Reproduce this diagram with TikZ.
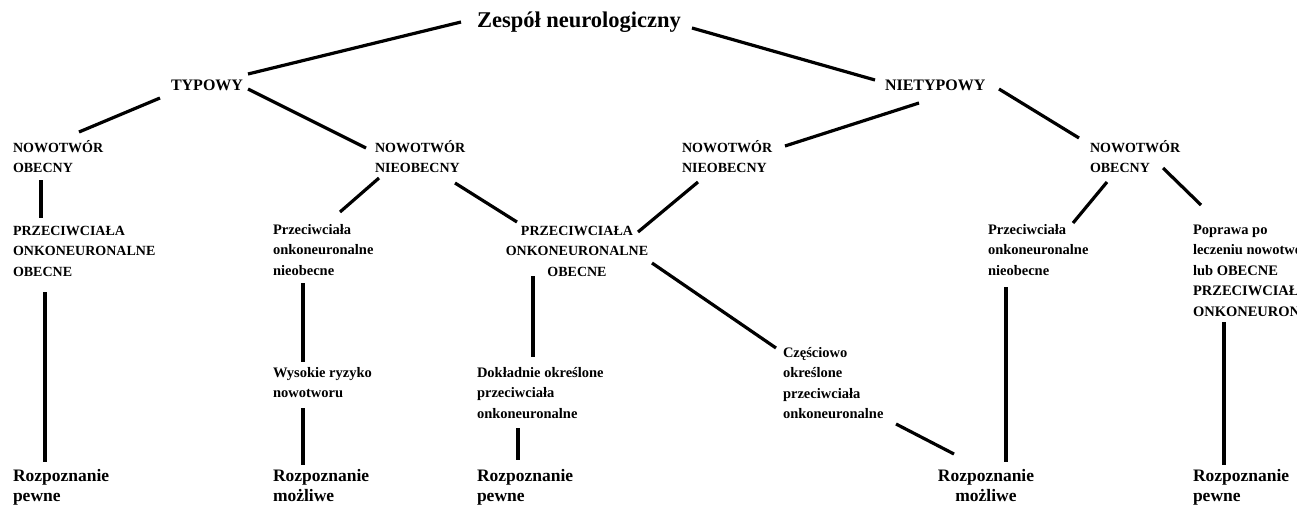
\documentclass[tikz,border=0pt]{standalone}
\usepackage{fontspec}
\setmainfont{Liberation Serif}
\usetikzlibrary{calc}
\newcommand{\mlines}[2]{\begin{tabular}[t]{@{}#1@{}}#2\end{tabular}}
\tikzset{
  lbl/.style={inner sep=0pt, outer sep=0pt, anchor=base west},
  clbl/.style={inner sep=0pt, outer sep=0pt, anchor=base},
  big/.style={font=\fontsize{22.5}{26}\selectfont\bfseries},
  mid/.style={font=\fontsize{16}{20}\selectfont\bfseries},
  small/.style={font=\fontsize{14.5}{20.5}\selectfont\bfseries},
  caps/.style={font=\fontsize{14}{20.5}\selectfont\bfseries},
  diag/.style={font=\fontsize{17.5}{20.5}\selectfont\bfseries},
  conn/.style={line width=3.2pt, black}
}
\begin{document}
\begin{tikzpicture}[x=1pt,y=-1pt]
\useasboundingbox (0,0) rectangle (1310,507);
\fill[white] (0,0) rectangle (1310,507);
\begin{scope}
\clip (0,0) rectangle (1296,507);
\node[lbl,big] (zes) at (477,27) {Zespół neurologiczny};
\node[lbl,mid] (typ) at (171,90) {TYPOWY};
\node[lbl,mid] (nietyp) at (885,90) {NIETYPOWY};
\node[lbl,caps] (nob1) at (13,152) {\mlines{l}{NOWOTWÓR\\OBECNY}};
\node[lbl,caps] (nnb1) at (375,152) {\mlines{l}{NOWOTWÓR\\NIEOBECNY}};
\node[lbl,caps] (nnb2) at (682,152) {\mlines{l}{NOWOTWÓR\\NIEOBECNY}};
\node[lbl,caps] (nob2) at (1090,152) {\mlines{l}{NOWOTWÓR\\OBECNY}};
\node[lbl,caps] (prz1) at (13,235) {\mlines{l}{PRZECIWCIAŁA\\ONKONEURONALNE\\OBECNE}};
\node[lbl,small] (pnb1) at (273,234) {\mlines{l}{Przeciwciała\\onkoneuronalne\\nieobecne}};
\node[clbl,caps] (prz2) at (577,235) {\mlines{c}{PRZECIWCIAŁA\\ONKONEURONALNE\\OBECNE}};
\node[lbl,small] (pnb2) at (988,234) {\mlines{l}{Przeciwciała\\onkoneuronalne\\nieobecne}};
\node[lbl,small] (popr) at (1193,234) {\mlines{l}{Poprawa po\\leczeniu nowotworu\\lub OBECNE\\PRZECIWCIAŁA\\ONKONEURONALNE}};
\node[lbl,small] (wys) at (273,377) {\mlines{l}{Wysokie ryzyko\\nowotworu}};
\node[lbl,small] (dok) at (477,377) {\mlines{l}{Dokładnie określone\\przeciwciała\\onkoneuronalne}};
\node[lbl,small] (cze) at (783,357) {\mlines{l}{Częściowo\\określone\\przeciwciała\\onkoneuronalne}};
\node[lbl,diag] (roz1) at (13,481) {\mlines{l}{Rozpoznanie\\pewne}};
\node[lbl,diag] (roz2) at (273,481) {\mlines{l}{Rozpoznanie\\możliwe}};
\node[lbl,diag] (roz3) at (477,481) {\mlines{l}{Rozpoznanie\\pewne}};
\node[clbl,diag] (roz4) at (986,481) {\mlines{c}{Rozpoznanie\\możliwe}};
\node[lbl,diag] (roz5) at (1193,481) {\mlines{l}{Rozpoznanie\\pewne}};
\end{scope}
\draw[conn] ($(zes.base west)+(-16,-5)$) -- ($(typ.base west)+(77,-16)$);
\draw[conn] ($(zes.base west)+(215,1)$) -- ($(nietyp.base west)+(-10,-10)$);
\draw[conn] ($(typ.base west)+(-11,8)$) -- ($(nob1.base west)+(66,-20)$);
\draw[conn] ($(typ.base west)+(77,-1)$) -- ($(nnb1.base west)+(-9,-4)$);
\draw[conn] ($(nietyp.base west)+(34,13)$) -- ($(nnb2.base west)+(103,-6)$);
\draw[conn] ($(nietyp.base west)+(114,-1)$) -- ($(nob2.base west)+(-11,-14)$);
\draw[conn] ($(nob1.base west)+(28,28)$) -- ($(prz1.base west)+(28,-17)$);
\draw[conn] ($(nnb1.base west)+(4,26)$) -- ($(pnb1.base west)+(67,-22)$);
\draw[conn] ($(nnb1.base west)+(80,31)$) -- ($(prz2.base)+(-60,-13)$);
\draw[conn] ($(nnb2.base west)+(16,30)$) -- ($(prz2.base)+(61,-3)$);
\draw[conn] ($(nob2.base west)+(17,30)$) -- ($(pnb2.base west)+(85,-11)$);
\draw[conn] ($(nob2.base west)+(73,16)$) -- ($(popr.base west)+(8,-29)$);
\draw[conn] ($(prz1.base west)+(32,57)$) -- ($(roz1.base west)+(32,-19)$);
\draw[conn] ($(pnb1.base west)+(30,49)$) -- ($(wys.base west)+(30,-15)$);
\draw[conn] ($(wys.base west)+(30,31)$) -- ($(roz2.base west)+(30,-16)$);
\draw[conn] ($(prz2.base)+(-44,41)$) -- ($(dok.base west)+(56,-20)$);
\draw[conn] ($(dok.base west)+(41,51)$) -- ($(roz3.base west)+(41,-21)$);
\draw[conn] ($(prz2.base)+(75,28)$) -- ($(cze.base west)+(-7,-9)$);
\draw[conn] ($(cze.base west)+(113,67)$) -- ($(roz4.base)+(-32,-27)$);
\draw[conn] ($(pnb2.base west)+(18,53)$) -- ($(roz4.base)+(20,-19)$);
\draw[conn] ($(popr.base west)+(31,88)$) -- ($(roz5.base west)+(31,-16)$);
\end{tikzpicture}
\end{document}
